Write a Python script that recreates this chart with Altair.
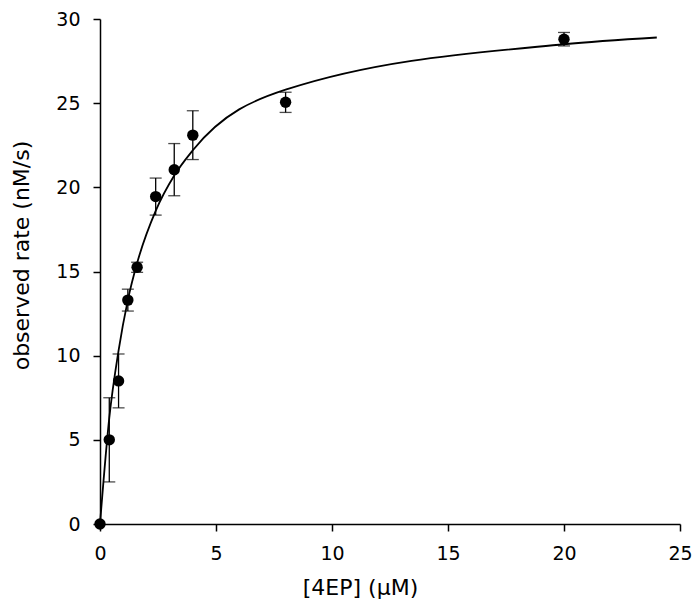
import altair as alt
import pandas as pd

# Measured data
conc = [0, 0.4, 0.8, 1.2, 1.6, 2.4, 3.2, 4.0, 8.0, 20.0]
rate = [0.0, 5.0, 8.5, 13.3, 15.25, 19.45, 21.05, 23.1, 25.05, 28.8]
err = [0.0, 2.5, 1.6, 0.65, 0.3, 1.1, 1.55, 1.45, 0.6, 0.4]

# Fitted curve values
fit_x = [0, 0.4, 0.8, 1.2, 1.6, 2.4, 3.2, 4.0, 8.0, 20.0, 24.0]
fit_y = [0.0, 6.3, 10.3, 13.3, 15.5, 18.6, 20.7, 22.2, 25.8, 28.5, 28.9]

x_ticks = [0, 5, 10, 15, 20, 25]
y_ticks = [0, 5, 10, 15, 20, 25, 30]

FONT = "DejaVu Sans"

df = pd.DataFrame({"x": conc, "y": rate, "err": err})
df["lo"] = df["y"] - df["err"]
df["hi"] = df["y"] + df["err"]
df_err = df[df["err"] > 0]
fit = pd.DataFrame({"x": fit_x, "y": fit_y})

xscale = alt.Scale(domain=[0, 25], nice=False, zero=False)
yscale = alt.Scale(domain=[0, 30], nice=False, zero=False)

xaxis = alt.Axis(values=x_ticks, title="[4EP] (μM)", grid=False,
                 domainColor="black", domainWidth=1.5, tickColor="black",
                 tickWidth=1.5, tickSize=7, labelFontSize=19, titleFontSize=22,
                 labelColor="black", titleColor="black", labelFont=FONT,
                 titleFont=FONT, titleFontWeight="normal", labelPadding=13,
                 titlePadding=14, titleX=260, titleAlign="center",
                 labelFlush=False)
yaxis = alt.Axis(values=y_ticks, title="observed rate (nM/s)", grid=False,
                 domainColor="black", domainWidth=1.5, tickColor="black",
                 tickWidth=1.5, tickSize=7, labelFontSize=19, titleFontSize=22,
                 labelColor="black", titleColor="black", labelFont=FONT,
                 titleFont=FONT, titleFontWeight="normal", labelPadding=13,
                 titlePadding=22, titleY=236, labelFlush=False)

line = alt.Chart(fit).mark_line(color="black", strokeWidth=1.8,
                                interpolate="monotone").encode(
    x=alt.X("x:Q", scale=xscale, axis=xaxis),
    y=alt.Y("y:Q", scale=yscale, axis=yaxis),
)

errbars = alt.Chart(df_err).mark_errorbar(
    color="black", thickness=1.3, ticks=alt.TickConfig(size=12, thickness=1.3)
).encode(
    x=alt.X("x:Q", scale=xscale),
    y=alt.Y("lo:Q", scale=yscale, title="observed rate (nM/s)"),
    y2="hi:Q",
)

points = alt.Chart(df).mark_circle(color="black", opacity=1, size=130).encode(
    x=alt.X("x:Q", scale=xscale),
    y=alt.Y("y:Q", scale=yscale),
)

chart = alt.layer(errbars, line, points).properties(
    width=580, height=505,
    autosize=alt.AutoSizeParams(type="none"),
    padding={"left": 92, "top": 11, "right": 12, "bottom": 84},
).configure_view(stroke=None)

chart.save("out.html", embed_options={"renderer": "svg", "actions": False})
